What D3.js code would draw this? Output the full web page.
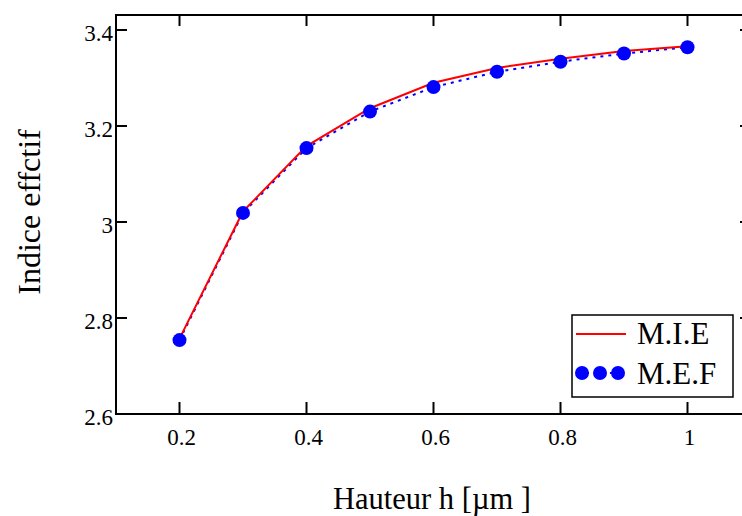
<!DOCTYPE html>
<html><head><meta charset="utf-8">
<script src="https://cdn.jsdelivr.net/npm/d3@7"></script>
<style>body{margin:0;background:#fff}svg{display:block}text{font-family:"Liberation Serif","Times New Roman",serif;fill:#000}</style>
</head><body>
<script>
const hValues = [0.2,0.3,0.4,0.5,0.6,0.7,0.8,0.9,1.0];
const mieValues = [2.757,3.022,3.158,3.237,3.290,3.321,3.340,3.356,3.366];
const mefValues = [2.754,3.019,3.154,3.230,3.281,3.313,3.334,3.351,3.364];
const xTicks = [0.2,0.4,0.6,0.8,1];
const yTicks = [2.6,2.8,3,3.2,3.4];
const xTitle = "Hauteur h [µm ]";
const yTitle = "Indice effctif";
const legendNames = ["M.I.E","M.E.F"];

(function(){
const W=742,H=516;
const svg=d3.select("body").append("svg").attr("width",W).attr("height",H);
const x=d3.scaleLinear().domain([0.1,1.1]).range([116,751]);
const y=d3.scaleLinear().domain([2.6,3.4]).range([414,30]);
const topY=15;
const ax=svg.append("g").attr("stroke","#000").attr("stroke-width",2).attr("fill","none");
ax.append("path").attr("d",`M${x(0.1)},${topY}V414H${x(1.1)}V${topY}Z`);
xTicks.forEach(t=>{
  ax.append("line").attr("x1",x(t)).attr("x2",x(t)).attr("y1",414).attr("y2",402);
  ax.append("line").attr("x1",x(t)).attr("x2",x(t)).attr("y1",topY).attr("y2",topY+11);
  svg.append("text").attr("x",x(t)+2).attr("y",445).attr("text-anchor","middle").attr("font-size",23).text(d3.format("")(t));
});
yTicks.forEach(t=>{
  if(t>2.6){
  ax.append("line").attr("x1",116).attr("x2",127).attr("y1",y(t)).attr("y2",y(t));
  ax.append("line").attr("x1",751).attr("x2",740).attr("y1",y(t)).attr("y2",y(t));}
  svg.append("text").attr("x",113).attr("y",y(t)+11).attr("text-anchor","end").attr("font-size",23).text(d3.format("")(t));
});
svg.append("text").attr("x",432).attr("y",509).attr("text-anchor","middle").attr("font-size",30.5).text(xTitle);
svg.append("text").attr("transform","translate(40,212) rotate(-90)").attr("text-anchor","middle").attr("font-size",32).text(yTitle);

const mie=hValues.map((h,i)=>[h,mieValues[i]]);
const mef=hValues.map((h,i)=>[h,mefValues[i]]);
const line=d3.line().x(d=>x(d[0])).y(d=>y(d[1]));
svg.append("path").attr("d",line(mef)).attr("fill","none").attr("stroke","#0000ff").attr("stroke-width",2).attr("stroke-dasharray","3,5");
svg.append("path").attr("d",line(mie)).attr("fill","none").attr("stroke","#ff0000").attr("stroke-width",2);
svg.selectAll("circle.m").data(mef).join("circle").attr("cx",d=>x(d[0])).attr("cy",d=>y(d[1])).attr("r",7).attr("fill","#0000ff");

const lg=svg.append("g");
lg.append("rect").attr("x",572).attr("y",315).attr("width",161).attr("height",82).attr("fill","#fff").attr("stroke","#000").attr("stroke-width",1.5);
lg.append("line").attr("x1",576).attr("x2",626).attr("y1",334).attr("y2",334).attr("stroke","#ff0000").attr("stroke-width",2);
lg.append("line").attr("x1",578).attr("x2",626).attr("y1",373).attr("y2",373).attr("stroke","#0000ff").attr("stroke-width",2).attr("stroke-dasharray","3,5");
[582,600,618].forEach(cx=>lg.append("circle").attr("cx",cx).attr("cy",373).attr("r",7).attr("fill","#0000ff"));
lg.append("text").attr("x",637).attr("y",344).attr("font-size",31).text(legendNames[0]);
lg.append("text").attr("x",637).attr("y",384).attr("font-size",31).text(legendNames[1]);
})();
</script>
</body></html>
